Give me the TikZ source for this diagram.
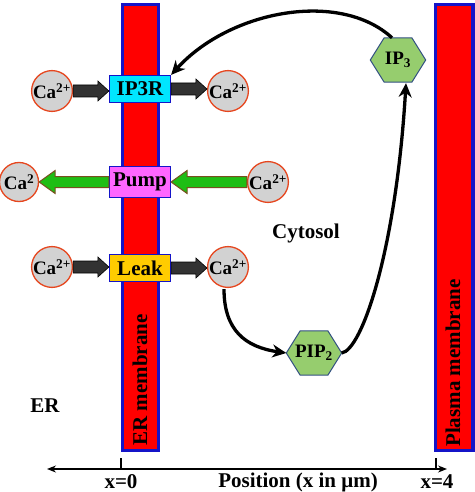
\documentclass[tikz,border=0pt]{standalone}
\usepackage{fontspec}
\setmainfont{Liberation Serif}
\usetikzlibrary{calc,arrows.meta}
\definecolor{memblue}{RGB}{20,20,200}
\definecolor{cyanbox}{RGB}{0,230,255}
\definecolor{pumpmag}{RGB}{255,102,255}
\definecolor{leakyel}{RGB}{255,204,0}
\definecolor{cagray}{RGB}{210,210,210}
\definecolor{caorange}{RGB}{230,70,30}
\definecolor{darkgrey}{RGB}{50,50,50}
\definecolor{arrgreen}{RGB}{30,190,20}
\definecolor{brownedge}{RGB}{120,80,30}
\definecolor{hexgreen}{RGB}{150,205,110}
\definecolor{hexedge}{RGB}{50,80,130}
\newcommand\blockarr[6]{%
  \path[#3] let \p1=(#1), \p2=(#2) in
   (\x1,{\y1+#4}) -- ({\x2-(#6)},{\y1+#4}) -- ({\x2-(#6)},{\y1+#5}) -- (\x2,\y1)
   -- ({\x2-(#6)},{\y1-#5}) -- ({\x2-(#6)},{\y1-#4}) -- (\x1,{\y1-#4}) -- cycle;}
\newcommand\hexshape[1]{%
  \draw[fill=hexgreen, draw=hexedge, line width=1pt]
   (#1.west) -- ($(#1.north west)!0.25!(#1.north east)$)
   -- ($(#1.north west)!0.75!(#1.north east)$) -- (#1.east)
   -- ($(#1.south west)!0.75!(#1.south east)$)
   -- ($(#1.south west)!0.25!(#1.south east)$) -- cycle;}
\begin{document}
\begin{tikzpicture}[x=1pt,y=-1pt,
  font=\bfseries\fontsize{21}{24}\selectfont,
  memb/.style={fill=red, draw=memblue, line width=3.5pt},
  chan/.style={draw=memblue, line width=1.2pt, minimum width=61pt, minimum height=27pt, inner sep=0pt},
  ca/.style={circle, fill=cagray, draw=caorange, line width=1.3pt, minimum size=39pt, inner sep=0pt, font=\bfseries\fontsize{19}{20}\selectfont},
  darkarr/.style={fill=darkgrey, draw=black, line width=0.6pt},
  greenarr/.style={fill=arrgreen, draw=brownedge, line width=1pt},
  curve/.style={line width=3.3pt, -{Stealth[length=14pt,width=13pt]}},
  hexbox/.style={minimum width=55pt, minimum height=44pt, inner sep=0pt},
  hextext/.style={font=\bfseries\fontsize{19}{20}\selectfont},
]
\useasboundingbox (0,0) rectangle (474,492);
% membranes
\draw[memb] (122.5,4.5) rectangle (158.5,450.5);
\draw[memb] (435.5,4.5) rectangle (473,450.5);
% channels
\node[chan, fill=cyanbox] (ip3r) at (140,89) {IP3R};
\node[chan, fill=pumpmag, minimum height=31pt] (pump) at (140,182) {Pump};
\node[chan, fill=leakyel] (leak) at (140,268) {Leak};
% calcium
\node[ca] (ca1l) at (52,91) {Ca\textsuperscript{2+}};
\node[ca] (ca1r) at (228,91) {Ca\textsuperscript{2+}};
\node[ca] (ca2l) at (19,182) {Ca\textsuperscript{2}};
\node[ca] (ca2r) at (268,182) {Ca\textsuperscript{2+}};
\node[ca] (ca3l) at (52,267) {Ca\textsuperscript{2+}};
\node[ca] (ca3r) at (228,267) {Ca\textsuperscript{2+}};
% block arrows
\blockarr{ca1l.east}{ip3r.west}{darkarr}{6pt}{10pt}{11pt}
\blockarr{ip3r.east}{ca1r.west}{darkarr}{6pt}{10pt}{11pt}
\blockarr{ca3l.east}{leak.west}{darkarr}{6pt}{10pt}{11pt}
\blockarr{leak.east}{ca3r.west}{darkarr}{6pt}{10pt}{11pt}
\blockarr{ca2r.west}{pump.east}{greenarr}{5.5pt}{11.5pt}{-16pt}
\blockarr{pump.west}{ca2l.east}{greenarr}{5.5pt}{11.5pt}{-16pt}
% hexagons
\path node[hexbox] (ip3) at (398,60) {};
\hexshape{ip3}
\node[hextext] (ip3t) at (ip3) {IP\textsubscript{3}};
\path node[hexbox] (pip2) at (314,353) {};
\hexshape{pip2}
\node[hextext] (pip2t) at (pip2) {PIP\textsubscript{2}};
% curved arrows
\draw[curve] ($(ip3.north)+(-6,0)$) .. controls (340,-10) and (230,10) .. (ip3r.north east);
\draw[curve] ($(ca3r.south)+(-4,1)$) .. controls (224,330) and (245,347) .. (pip2.west);
\draw[curve] (pip2.east) .. controls (362,350) and (396,250) .. ($(ip3.south)+(8,1)$);
% texts
\node (cyto) at (306,233) {Cytosol};
\node (er) at (45,406) {ER};
\node[rotate=90] (erm) at (140,380) {ER membrane};
\node[rotate=90] (pm) at (453,363) {Plasma membrane};
% axis
\coordinate (axl) at (47,469);
\coordinate (axr) at (447,469);
\coordinate (t0) at (121,458);
\coordinate (t0b) at (121,469);
\coordinate (t4) at (436,458);
\coordinate (t4b) at (436,469);
\draw[line width=1.3pt, {Stealth[length=9pt,width=7pt]}-{Stealth[length=9pt,width=7pt]}] (axl) -- (axr);
\draw[line width=1.3pt] (t0) -- (t0b);
\draw[line width=1.3pt] (t4) -- (t4b);
\node (x0) at (121,482) {x=0};
\node (pos) at (298,482) {Position (x in μm)};
\node (x4) at (437,482) {x=4};
\end{tikzpicture}
\end{document}
